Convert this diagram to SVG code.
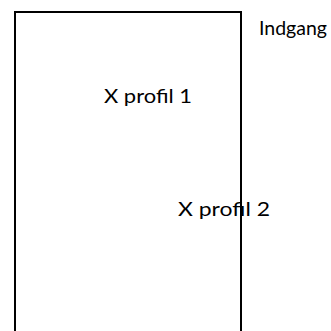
<svg xmlns="http://www.w3.org/2000/svg" width="331" height="331" viewBox="0 0 331 331">
<style>
.lbl{font-family:"Lato","Open Sans","Liberation Sans",sans-serif;font-size:19px;fill:#000}
.frame{fill:none;stroke:#000;stroke-width:2}
</style>
<rect width="331" height="331" fill="#fff"/>
<g id="indgang"><text class="lbl" x="259" y="35" textLength="68" lengthAdjust="spacingAndGlyphs">Indgang</text></g>
<g id="xprofil1"><text class="lbl" x="104" y="103" textLength="88" lengthAdjust="spacingAndGlyphs">X profil 1</text></g>
<g id="xprofil2"><text class="lbl" x="178" y="216" textLength="92" lengthAdjust="spacingAndGlyphs">X profil 2</text></g>
<g id="connectors"><path class="frame" d="M15,333 V12 H241 V333"/></g>
</svg>
